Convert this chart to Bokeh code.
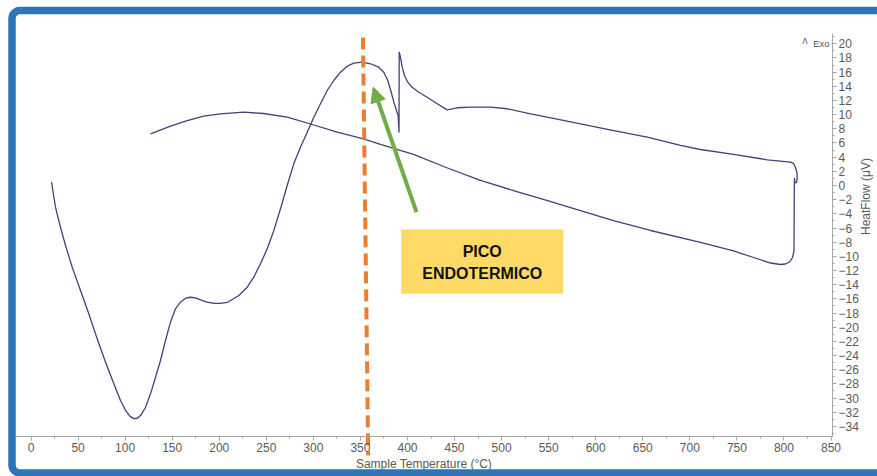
import math

from bokeh.core.properties import value
from bokeh.embed import file_html
from bokeh.models import Arrow, BoxAnnotation, FixedTicker, Label, NormalHead, Range1d
from bokeh.plotting import figure
from bokeh.resources import INLINE

# DSC run: heating branch up to ~815 °C, then the cooling branch back down
temperature_c = [
    21.8, 26.0, 31.3, 36.7, 43.8, 52.6, 61.4, 70.3, 79.2, 88.0, 95.1, 100.5,
    105.0, 109.2, 113.0, 116.8, 121.7, 127.0, 132.3, 137.6, 142.9, 148.2, 153.5, 158.8, 164.2,
    169.5, 174.8, 180.1, 187.2, 194.2, 201.3, 208.5, 212.0, 220.8, 229.7, 236.7,
    243.8, 251.0, 258.0, 265.1, 272.2, 279.2, 286.3, 293.5, 300.5, 307.6, 314.7,
    321.7, 328.8, 336.0, 343.0, 351.9, 360.7, 369.5, 374.8, 379.1, 382.7, 385.5,
    388.3, 390.1, 391.0, 391.2, 392.6, 394.4, 396.8, 400.3, 405.0, 412.0, 420.9,
    431.6, 442.2, 452.8, 467.0, 488.2, 505.9, 530.7, 548.5, 583.8, 619.2, 654.7,
    690.1, 711.3, 746.4, 782.2, 807.0, 810.1, 812.2, 813.8, 814.1, 813.3, 811.7,
    811.2, 811.0, 810.7, 809.1, 805.9, 801.6, 796.3, 785.7, 764.5, 746.4, 711.3,
    658.2, 618.9, 583.8, 548.8, 512.6, 477.6, 442.5, 406.4, 371.3, 353.3, 325.3,
    297.0, 272.2, 247.0, 226.1, 201.3, 183.6, 166.0, 148.2, 127.0,
]
heat_flow_uv = [
    0.47, -3.06, -5.89, -8.47, -11.53, -14.82, -18.11, -21.64, -24.94, -27.99, -30.35, -31.75,
    -32.55, -32.90, -32.85, -32.40, -31.29, -29.40, -27.06, -24.70, -21.88, -19.29, -17.40, -16.47, -15.91,
    -15.77, -15.85, -16.13, -16.47, -16.65, -16.65, -16.51, -16.23, -15.53, -14.35, -12.94,
    -11.05, -8.93, -6.35, -3.29, 0.0, 3.06, 5.41, 7.52, 9.64, 11.53, 13.41,
    14.82, 15.99, 16.84, 17.26, 17.40, 17.18, 16.70, 15.99, 14.82, 13.17, 11.76,
    10.59, 9.88, 7.52, 18.81, 18.11, 16.70, 15.53, 14.58, 13.87, 13.17, 12.46,
    11.53, 10.68, 10.97, 11.05, 11.05, 10.83, 10.12, 9.64, 8.71, 7.76, 6.82,
    5.65, 5.08, 4.38, 3.63, 3.29, 3.11, 2.58, 1.83, 0.99, 0.42, 0.38,
    0.99, 0.0, -9.17, -10.16, -10.80, -11.08, -11.15, -10.94, -10.02, -9.24, -8.04,
    -6.35, -4.94, -3.53, -2.12, -0.71, 0.71, 2.47, 4.38, 5.79, 6.59, 7.52,
    8.68, 9.64, 10.16, 10.35, 10.12, 9.78, 9.17, 8.37, 7.30,
]

x_ticks = list(range(0, 851, 50))
x_minor_ticks = list(range(0, 851, 25))
y_ticks = list(range(-34, 21, 2))
y_minor_ticks = list(range(-35, 22, 1))

# extent of the drawn axes (data units)
X_AXIS_BOUNDS = (-16.5, 851.6)
Y_AXIS_BOUNDS = (-35.4, 21.45)

TICK_FONT = "Liberation Sans"
TICK_COLOR = "#5a5a5a"
AXIS_COLOR = "#a6a6a6"

p = figure(
    width=877, height=476,
    output_backend="svg", toolbar_location=None,
    x_range=Range1d(-32.41, 899.4), y_range=Range1d(-41.07, 26.11),
    y_axis_location="right",
    min_border=0, min_border_left=0, min_border_right=0,
    min_border_top=0, min_border_bottom=0,
)
p.grid.visible = False
p.outline_line_color = None
p.background_fill_color = "white"
p.border_fill_color = "white"

# axes, drawn inside the plot area at fixed positions
for ax in (p.xaxis[0], p.yaxis[0]):
    ax.axis_line_color = AXIS_COLOR
    ax.major_tick_line_color = AXIS_COLOR
    ax.minor_tick_line_color = AXIS_COLOR
    ax.major_tick_in = 0
    ax.minor_tick_in = 0
    ax.major_tick_out = 4
    ax.minor_tick_out = 2
    ax.major_label_text_font = TICK_FONT
    ax.major_label_text_font_size = "12px"
    ax.major_label_text_color = TICK_COLOR
    ax.axis_label_text_font = TICK_FONT
    ax.axis_label_text_font_size = "12px"
    ax.axis_label_text_font_style = "normal"
    ax.axis_label_text_color = TICK_COLOR

p.xaxis.fixed_location = Y_AXIS_BOUNDS[0]
p.yaxis.fixed_location = X_AXIS_BOUNDS[1]
p.xaxis.bounds = X_AXIS_BOUNDS
p.yaxis.bounds = Y_AXIS_BOUNDS
p.xaxis.ticker = FixedTicker(ticks=x_ticks, minor_ticks=x_minor_ticks)
p.yaxis.ticker = FixedTicker(ticks=y_ticks, minor_ticks=y_minor_ticks)
p.xaxis.axis_label = "Sample Temperature (°C)"
p.yaxis.axis_label = "HeatFlow (μV)"
p.xaxis.major_label_standoff = 3
p.xaxis.axis_label_standoff = 1
p.yaxis.major_label_standoff = 2
p.yaxis.axis_label_standoff = 4
p.yaxis.axis_label_orientation = math.pi / 2

# heat-flow trace
p.line(temperature_c, heat_flow_uv, line_color="#38386f", line_width=1.3,
       line_join="round", line_alpha=0.95)

# "Exo" direction marker
p.add_layout(Label(x=822, y=20.6, text="∧", text_align="center", text_baseline="middle",
                   text_font=TICK_FONT, text_font_size="11px", text_color="#808080"))
p.add_layout(Label(x=848.4, y=20.0, text="Exo", text_align="right", text_baseline="middle",
                   text_font=TICK_FONT, text_font_size="9.5px", text_color="#555555"))

# callout box
p.quad(left=[393.3], right=[565.5], top=[-6.21], bottom=[-15.29],
       fill_color="#FFD966", line_color=None)
p.text(x=[479.4, 479.4], y=[-9.32, -12.46], text=["PICO", "ENDOTERMICO"],
       text_align="center", text_baseline="middle",
       text_font=value("Liberation Sans"), text_font_style="bold",
       text_font_size="16px", text_color="#111111")

# dashed marker of the peak temperature
p.segment(x0=[352.7], y0=[20.9], x1=[358.3], y1=[-38.1],
          line_color="#ED7D31", line_width=4, line_dash="12 6")

# arrow pointing at the peak
p.add_layout(Arrow(
    end=NormalHead(size=15, fill_color="#70AD47", line_color="#70AD47", line_width=1),
    x_start=409.6, y_start=-3.77, x_end=363.6, y_end=13.87,
    line_color="#70AD47", line_width=4))

# slide frame around the chart
p.add_layout(BoxAnnotation(
    left=-20.19, right=960, top=24.70, bottom=-40.58,
    fill_color=None, line_color="#2E75B6", line_alpha=1.0, line_width=7.5,
    border_radius=8, level="overlay"))

open("out.html", "w").write(file_html(p, INLINE))
